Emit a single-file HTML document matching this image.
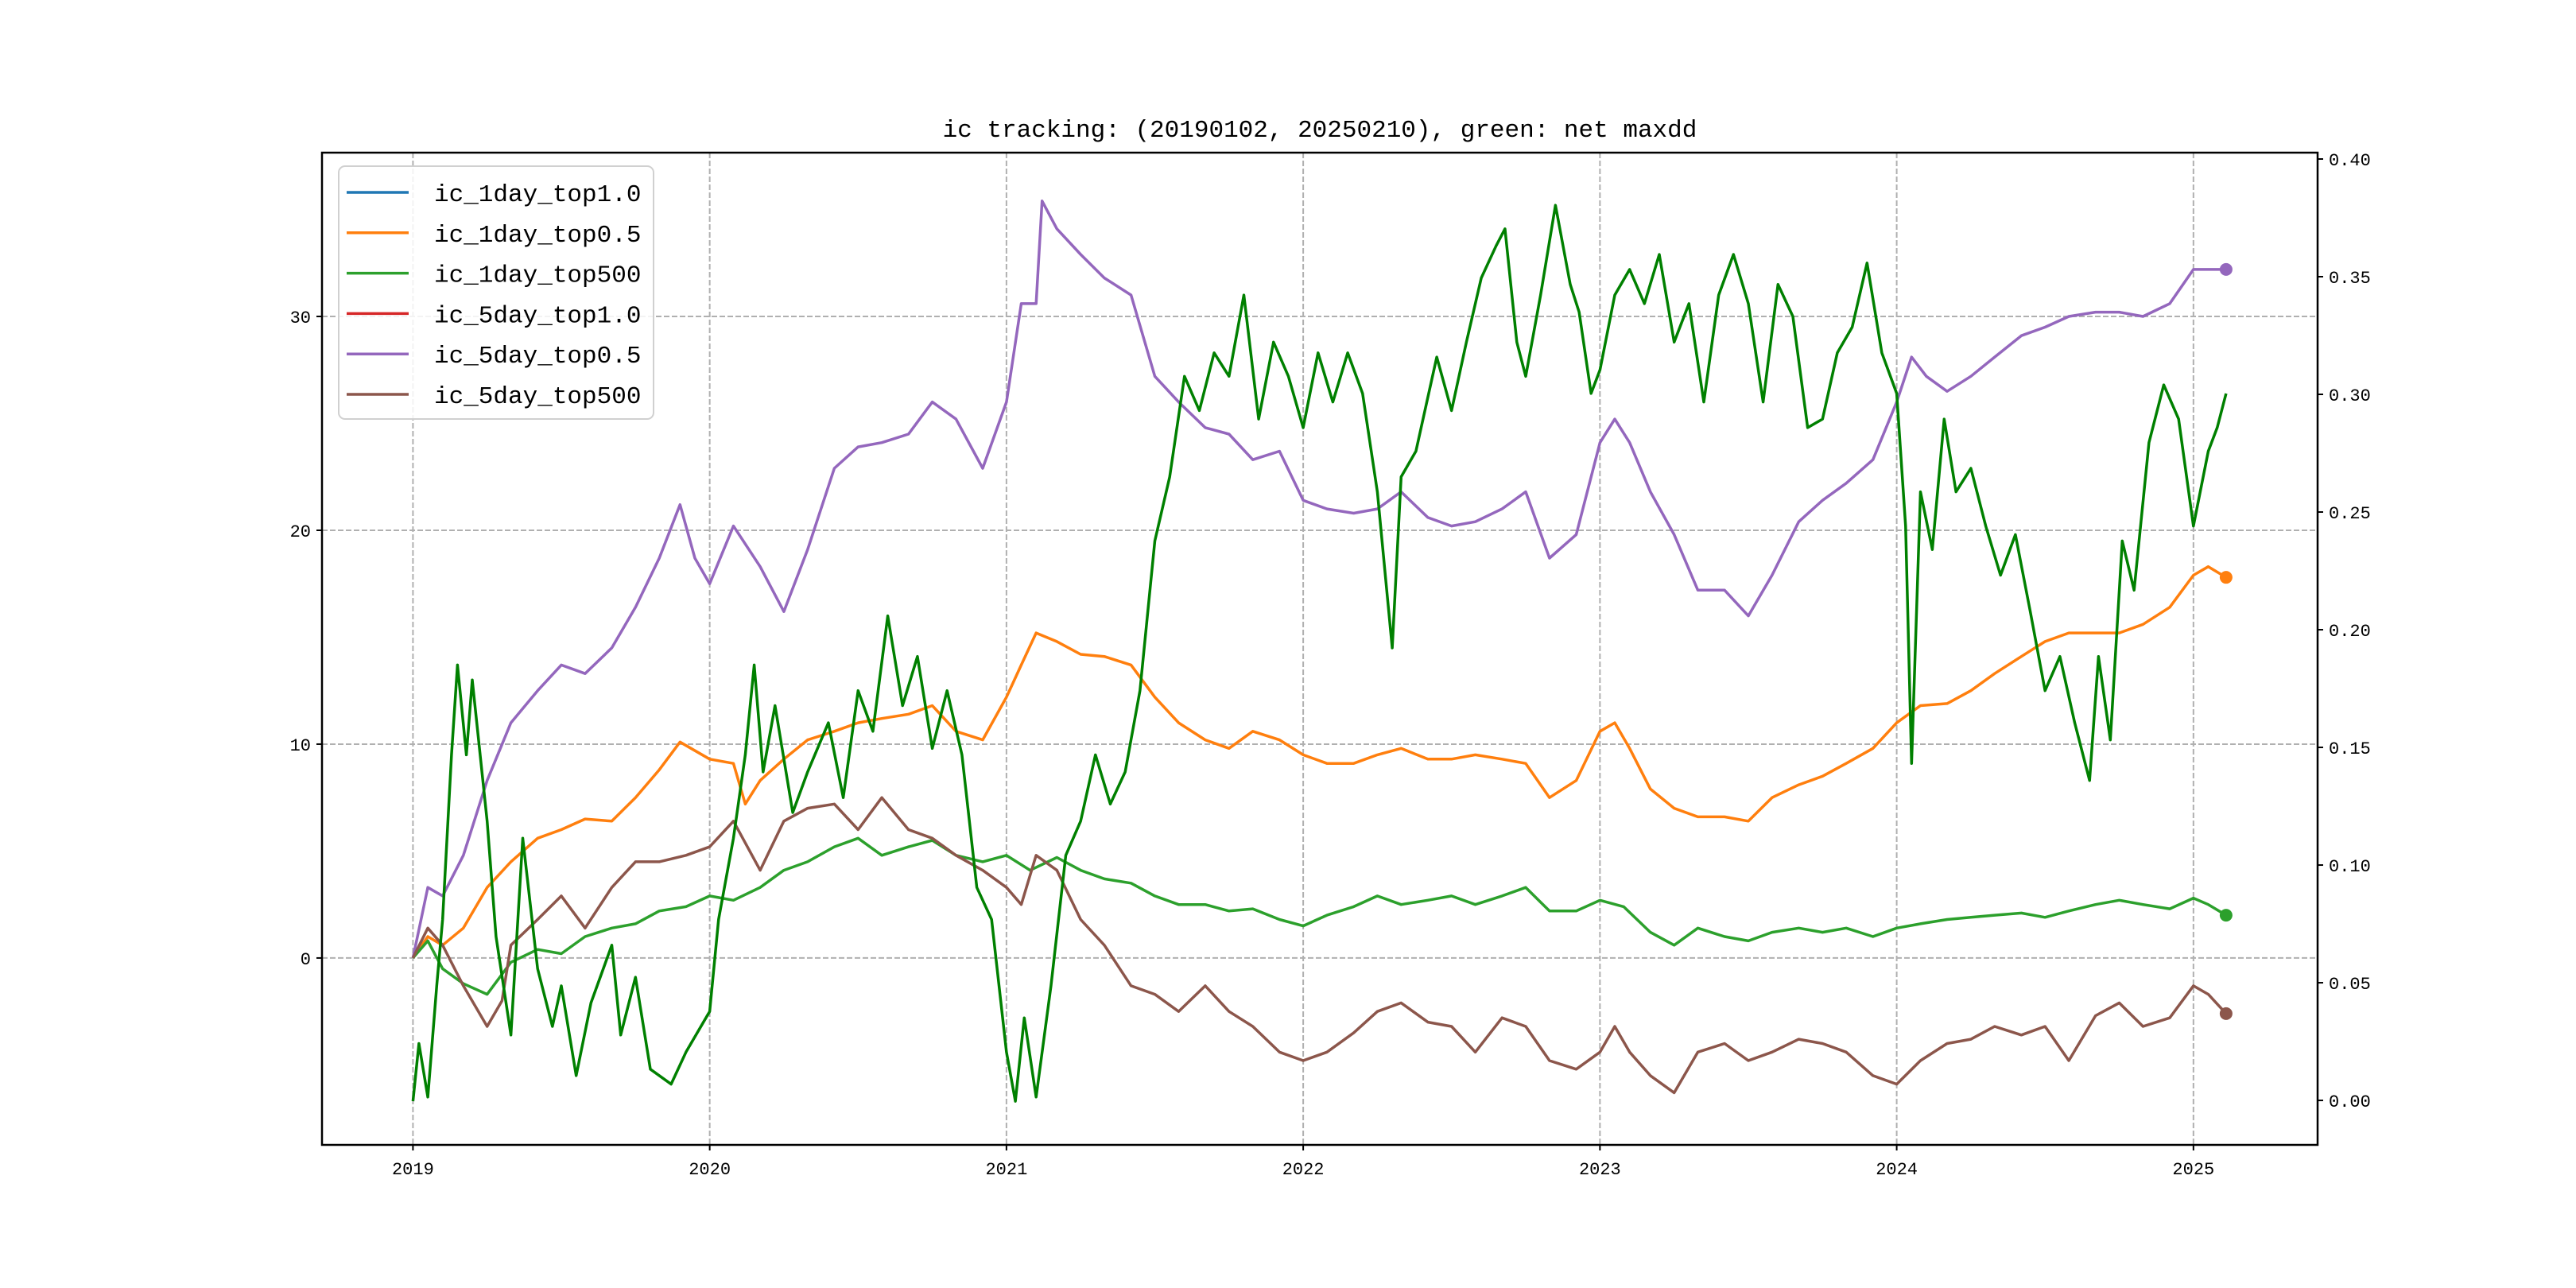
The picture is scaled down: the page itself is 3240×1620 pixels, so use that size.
<!DOCTYPE html>
<html><head><meta charset="utf-8"><style>
html,body{margin:0;padding:0;background:#fff;}
svg{display:block;}
text{font-family:"Liberation Mono","WenQuanYi Zen Hei",monospace;fill:#000;}
</style></head><body>
<svg id="chart" width="3240" height="1620" viewBox="0 0 3240 1620" xmlns="http://www.w3.org/2000/svg">
<rect width="3240" height="1620" fill="#fff"/>
<g id="grid"></g><g id="series"></g><g id="axes"></g><g id="legend"></g>
</svg>
<script>
// ---- data (x in fractional years, y in left-axis units) ----
const xTicks = [2019,2020,2021,2022,2023,2024,2025];
const yTicksLeft = [0,10,20,30];
const yTicksRight = ["0.00","0.05","0.10","0.15","0.20","0.25","0.30","0.35","0.40"];
const seriesNames = ["ic_1day_top1.0","ic_1day_top0.5","ic_1day_top500","ic_5day_top1.0","ic_5day_top0.5","ic_5day_top500"];
const seriesColors = ["#1f77b4","#ff7f0e","#2ca02c","#d62728","#9467bd","#8c564b"];

const purpleX=[2019,2019.05,2019.1,2019.17,2019.25,2019.33,2019.42,2019.5,2019.58,2019.67,2019.75,2019.83,2019.9,2019.95,2020,2020.08,2020.17,2020.25,2020.33,2020.42,2020.5,2020.58,2020.67,2020.75,2020.83,2020.92,2021,2021.05,2021.1,2021.12,2021.17,2021.25,2021.33,2021.42,2021.5,2021.58,2021.67,2021.75,2021.83,2021.92,2022,2022.08,2022.17,2022.25,2022.33,2022.42,2022.5,2022.58,2022.67,2022.75,2022.83,2022.92,2023,2023.05,2023.1,2023.17,2023.25,2023.33,2023.42,2023.5,2023.58,2023.67,2023.75,2023.83,2023.92,2024,2024.05,2024.1,2024.17,2024.25,2024.33,2024.42,2024.5,2024.58,2024.67,2024.75,2024.83,2024.92,2025,2025.11];
const purpleY=[0,3.3,2.9,4.8,8.3,11,12.5,13.7,13.3,14.5,16.4,18.7,21.2,18.7,17.5,20.2,18.3,16.2,19.1,22.9,23.9,24.1,24.5,26,25.2,22.9,26,30.6,30.6,35.4,34.1,32.9,31.8,31,27.2,26,24.8,24.5,23.3,23.7,21.4,21,20.8,21,21.8,20.6,20.2,20.4,21,21.8,18.7,19.8,24.1,25.2,24.1,21.8,19.8,17.2,17.2,16,17.9,20.4,21.4,22.2,23.3,26,28.1,27.2,26.5,27.2,28.1,29.1,29.5,30,30.2,30.2,30,30.6,32.2,32.2];

const orangeX=[2019,2019.05,2019.1,2019.17,2019.25,2019.33,2019.42,2019.5,2019.58,2019.67,2019.75,2019.83,2019.9,2020,2020.08,2020.12,2020.17,2020.25,2020.33,2020.42,2020.5,2020.58,2020.67,2020.75,2020.83,2020.92,2021,2021.05,2021.1,2021.17,2021.25,2021.33,2021.42,2021.5,2021.58,2021.67,2021.75,2021.83,2021.92,2022,2022.08,2022.17,2022.25,2022.33,2022.42,2022.5,2022.58,2022.67,2022.75,2022.83,2022.92,2023,2023.05,2023.1,2023.17,2023.25,2023.33,2023.42,2023.5,2023.58,2023.67,2023.75,2023.83,2023.92,2024,2024.08,2024.17,2024.25,2024.33,2024.42,2024.5,2024.58,2024.67,2024.75,2024.83,2024.92,2025,2025.05,2025.11];
const orangeY=[0,1,0.6,1.4,3.3,4.5,5.6,6,6.5,6.4,7.5,8.8,10.1,9.3,9.1,7.2,8.3,9.3,10.2,10.6,11,11.2,11.4,11.8,10.6,10.2,12.2,13.7,15.2,14.8,14.2,14.1,13.7,12.2,11,10.2,9.8,10.6,10.2,9.5,9.1,9.1,9.5,9.8,9.3,9.3,9.5,9.3,9.1,7.5,8.3,10.6,11,9.8,7.9,7,6.6,6.6,6.4,7.5,8.1,8.5,9.1,9.8,11,11.8,11.9,12.5,13.3,14.1,14.8,15.2,15.2,15.2,15.6,16.4,17.9,18.3,17.8];

const greenX=[2019,2019.05,2019.1,2019.17,2019.25,2019.33,2019.42,2019.5,2019.58,2019.67,2019.75,2019.83,2019.92,2020,2020.08,2020.17,2020.25,2020.33,2020.42,2020.5,2020.58,2020.67,2020.75,2020.83,2020.92,2021,2021.08,2021.17,2021.25,2021.33,2021.42,2021.5,2021.58,2021.67,2021.75,2021.83,2021.92,2022,2022.08,2022.17,2022.25,2022.33,2022.42,2022.5,2022.58,2022.67,2022.75,2022.83,2022.92,2023,2023.08,2023.17,2023.25,2023.33,2023.42,2023.5,2023.58,2023.67,2023.75,2023.83,2023.92,2024,2024.08,2024.17,2024.25,2024.33,2024.42,2024.5,2024.58,2024.67,2024.75,2024.83,2024.92,2025,2025.05,2025.11];
const greenY=[0,0.8,-0.5,-1.2,-1.7,-0.2,0.4,0.2,1,1.4,1.6,2.2,2.4,2.9,2.7,3.3,4.1,4.5,5.2,5.6,4.8,5.2,5.5,4.8,4.5,4.8,4.1,4.7,4.1,3.7,3.5,2.9,2.5,2.5,2.2,2.3,1.8,1.5,2,2.4,2.9,2.5,2.7,2.9,2.5,2.9,3.3,2.2,2.2,2.7,2.4,1.2,0.6,1.4,1,0.8,1.2,1.4,1.2,1.4,1,1.4,1.6,1.8,1.9,2,2.1,1.9,2.2,2.5,2.7,2.5,2.3,2.8,2.5,2];

const brownX=[2019,2019.05,2019.1,2019.17,2019.25,2019.3,2019.33,2019.42,2019.5,2019.58,2019.67,2019.75,2019.83,2019.92,2020,2020.08,2020.17,2020.25,2020.33,2020.42,2020.5,2020.58,2020.67,2020.75,2020.83,2020.92,2021,2021.05,2021.1,2021.17,2021.25,2021.33,2021.42,2021.5,2021.58,2021.67,2021.75,2021.83,2021.92,2022,2022.08,2022.17,2022.25,2022.33,2022.42,2022.5,2022.58,2022.67,2022.75,2022.83,2022.92,2023,2023.05,2023.1,2023.17,2023.25,2023.33,2023.42,2023.5,2023.58,2023.67,2023.75,2023.83,2023.92,2024,2024.08,2024.17,2024.25,2024.33,2024.42,2024.5,2024.58,2024.67,2024.75,2024.83,2024.92,2025,2025.05,2025.11];
const brownY=[0,1.4,0.6,-1.3,-3.2,-2,0.6,1.8,2.9,1.4,3.3,4.5,4.5,4.8,5.2,6.4,4.1,6.4,7,7.2,6,7.5,6,5.6,4.8,4.1,3.3,2.5,4.8,4.1,1.8,0.6,-1.3,-1.7,-2.5,-1.3,-2.5,-3.2,-4.4,-4.8,-4.4,-3.5,-2.5,-2.1,-3,-3.2,-4.4,-2.8,-3.2,-4.8,-5.2,-4.4,-3.2,-4.4,-5.5,-6.3,-4.4,-4,-4.8,-4.4,-3.8,-4,-4.4,-5.5,-5.9,-4.8,-4,-3.8,-3.2,-3.6,-3.2,-4.8,-2.7,-2.1,-3.2,-2.8,-1.3,-1.7,-2.6];

const netX=[2019,2019.02,2019.05,2019.08,2019.1,2019.13,2019.15,2019.18,2019.2,2019.25,2019.28,2019.33,2019.37,2019.42,2019.47,2019.5,2019.55,2019.6,2019.67,2019.7,2019.75,2019.8,2019.87,2019.92,2020,2020.03,2020.08,2020.12,2020.15,2020.18,2020.22,2020.28,2020.33,2020.4,2020.45,2020.5,2020.55,2020.6,2020.65,2020.7,2020.75,2020.8,2020.85,2020.9,2020.95,2021,2021.03,2021.06,2021.1,2021.15,2021.2,2021.25,2021.3,2021.35,2021.4,2021.45,2021.5,2021.55,2021.6,2021.65,2021.7,2021.75,2021.8,2021.85,2021.9,2021.95,2022,2022.05,2022.1,2022.15,2022.2,2022.25,2022.3,2022.33,2022.38,2022.45,2022.5,2022.55,2022.6,2022.65,2022.68,2022.72,2022.75,2022.8,2022.85,2022.9,2022.93,2022.97,2023,2023.05,2023.1,2023.15,2023.2,2023.25,2023.3,2023.35,2023.4,2023.45,2023.5,2023.55,2023.6,2023.65,2023.7,2023.75,2023.8,2023.85,2023.9,2023.95,2024,2024.03,2024.05,2024.08,2024.12,2024.16,2024.2,2024.25,2024.3,2024.35,2024.4,2024.45,2024.5,2024.55,2024.6,2024.65,2024.68,2024.72,2024.76,2024.8,2024.85,2024.9,2024.95,2025,2025.05,2025.08,2025.11];
const netY=[-6.7,-4,-6.5,-1.3,1.8,9.5,13.7,9.5,13,6.4,1,-3.6,5.6,-0.5,-3.2,-1.3,-5.5,-2.1,0.6,-3.6,-0.9,-5.2,-5.9,-4.4,-2.5,1.8,5.6,9.5,13.7,8.7,11.8,6.8,8.7,11,7.5,12.5,10.6,16,11.8,14.1,9.8,12.5,9.5,3.3,1.8,-4.4,-6.7,-2.8,-6.5,-1.3,4.8,6.4,9.5,7.2,8.7,12.5,19.5,22.5,27.2,25.6,28.3,27.2,31,25.2,28.8,27.2,24.8,28.3,26,28.3,26.4,21.8,14.5,22.5,23.7,28.1,25.6,28.8,31.8,33.3,34.1,28.8,27.2,31,35.2,31.5,30.2,26.4,27.5,31,32.2,30.6,32.9,28.8,30.6,26,31,32.9,30.6,26,31.5,30,24.8,25.2,28.3,29.5,32.5,28.3,26.4,20.2,9.1,21.8,19.1,25.2,21.8,22.9,20.2,17.9,19.8,16.2,12.5,14.1,11,8.3,14.1,10.2,19.5,17.2,24.1,26.8,25.2,20.2,23.7,24.8,26.4];

// ---- axes geometry ----
const L=405,R=2915,T=192,B=1440;
const xMin=2018.6935,xMax=2025.4184;
const yMin=-8.74,yMax=37.66;
const rMin=-0.0189,rMax=0.4027;
const sx=v=>L+(v-xMin)/(xMax-xMin)*(R-L);
const sy=v=>B-(v-yMin)/(yMax-yMin)*(B-T);
const sr=v=>B-(v-rMin)/(rMax-rMin)*(B-T);
const NS="http://www.w3.org/2000/svg";
function mk(tag,attrs,parent){const e=document.createElementNS(NS,tag);for(const k in attrs)e.setAttribute(k,attrs[k]);parent.appendChild(e);return e;}
const grid=document.getElementById('grid'),ser=document.getElementById('series'),axes=document.getElementById('axes'),leg=document.getElementById('legend');

xTicks.forEach(v=>{
  const g=mk('line',{x1:sx(v),x2:sx(v),y1:T,y2:B,stroke:'#b0b0b0','stroke-width':2,'stroke-dasharray':'7,3'},grid);
  
  
  mk('line',{x1:sx(v),x2:sx(v),y1:B,y2:B+7,stroke:'#000','stroke-width':2},axes);
  const t=mk('text',{x:sx(v),y:B+37,'font-size':22,'text-anchor':'middle'},axes);
  t.textContent=v;
  
  
});
yTicksLeft.forEach(v=>{
  const g=mk('line',{x1:L,x2:R,y1:sy(v),y2:sy(v),stroke:'#b0b0b0','stroke-width':2,'stroke-dasharray':'7,3'},grid);
  
  
  mk('line',{x1:L-7,x2:L,y1:sy(v),y2:sy(v),stroke:'#000','stroke-width':2},axes);
  const t=mk('text',{x:L-14,y:sy(v)+8,'font-size':22,'text-anchor':'end'},axes);
  t.textContent=v;
  
  
});
yTicksRight.forEach(s=>{
  const v=parseFloat(s);
  mk('line',{x1:R,x2:R+7,y1:sr(v),y2:sr(v),stroke:'#000','stroke-width':2},axes);
  const t=mk('text',{x:R+14,y:sr(v)+8,'font-size':22},axes);
  t.textContent=s;
  
  
});

function line(xs,ys,color,name,w,dot){
  const d=xs.map((x,i)=>(i?'L':'M')+sx(x).toFixed(1)+','+sy(ys[i]).toFixed(1)).join('');
  const p=mk('path',{d:d,fill:'none',stroke:color,'stroke-width':w,'stroke-linejoin':'round'},ser);
  
  
  if(dot){
    const n=xs.length-1;
    const c=mk('circle',{cx:sx(xs[n]),cy:sy(ys[n]),r:8,fill:color},ser);
    
    
  }
}
line(purpleX,purpleY,'#9467bd','ic-5day-top0.5-line',3.5,true);
line(orangeX,orangeY,'#ff7f0e','ic-1day-top0.5-line',3.5,true);
line(greenX,greenY,'#2ca02c','ic-1day-top500-line',3.5,true);
line(brownX,brownY,'#8c564b','ic-5day-top500-line',3.5,true);
line(netX,netY,'#008000','net-maxdd-line',3.5,false);

const fr=mk('rect',{x:L,y:T,width:R-L,height:B-T,fill:'none',stroke:'#000','stroke-width':2.5},axes);


const title=mk('text',{x:(L+R)/2,y:172,'font-size':31,'text-anchor':'middle'},axes);
title.textContent='ic tracking: (20190102, 20250210), green: net maxdd';



const lb=mk('rect',{x:426,y:209,width:396,height:318,rx:8,fill:'#fff','fill-opacity':0.85,stroke:'#d0d0d0','stroke-width':2},leg);


seriesNames.forEach((n,i)=>{
  const y=242+i*50.8;
  const l=mk('line',{x1:436,x2:514,y1:y,y2:y,stroke:seriesColors[i],'stroke-width':3.5},leg);
  
  
  const t=mk('text',{x:546,y:y+11,'font-size':31},leg);
  t.textContent=n;
  
  
});
</script>
</body></html>
